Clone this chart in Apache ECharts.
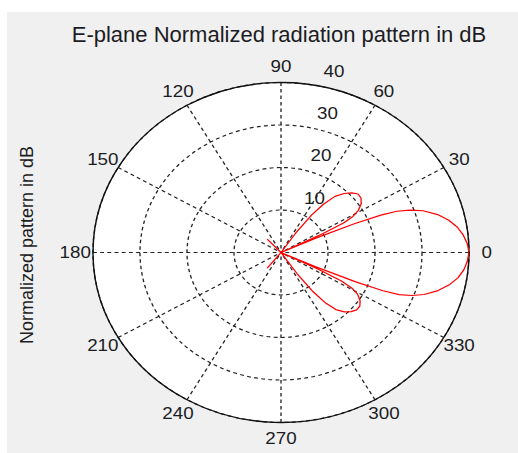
<!DOCTYPE html>
<html><head><meta charset="utf-8">
<script src="https://cdn.jsdelivr.net/npm/echarts@6/dist/echarts.min.js"></script>
<style>
html,body{margin:0;padding:0;background:#fff;width:518px;height:453px;overflow:hidden}
#bg{position:absolute;left:7px;top:12px;width:511px;height:441px;background:#f0f0f0}
#plot{position:absolute;left:0;top:0;width:518px;height:453px;transform-origin:281px 0;transform:scaleX(1.106)}
#txt{position:absolute;left:0;top:0;width:518px;height:453px}
</style></head>
<body><div id="bg"></div><div id="plot"></div><div id="txt"></div>
<script>
// Text
const titleText = 'E-plane Normalized radiation pattern in dB';
const yLabelText = 'Normalized pattern in dB';
// Tick labels
const angleTicks = [0, 30, 60, 90, 120, 150, 180, 210, 240, 270, 300, 330];
const radiusTicks = [10, 20, 30, 40];
// Pattern: angle (deg) and normalized pattern value plotted as radius (dB + 40)
const thetaDeg = [0, 3, 6, 9, 12, 15, 18, 20, 21.5, 22.5, 23.5, 24.5, 25.5, 26.5, 27.5, 29, 31, 34, 37, 40, 43, 46, 49, 51.5, 53.5, 55.5, 57,
  130, 133, 136, 229, 231.5, 234,
  303, 304.5, 306.5, 308.5, 311, 314, 317, 320, 323, 326, 329, 331, 332.5, 333.5, 334.5, 335.5, 336.5, 337.5, 338.5, 340, 342, 345, 348, 351, 354, 357, 360];
const patternR = [40, 39.7, 39.0, 38.0, 36.5, 34.5, 31.8, 29.2, 26.5, 23, 17, 8, 0, 10, 15, 17.5, 19.2, 20.6, 21.3, 21.4, 20.6, 19.3, 17.5, 14.5, 11, 5.5, 0,
  0, 4.3, 0, 0, 4.7, 0,
  0, 6, 11.5, 15, 17.8, 19.4, 20.4, 21.0, 21.0, 20.3, 19.0, 17.2, 14.5, 9, 0, 8, 17.5, 23.5, 27, 29.6, 32, 34.6, 36.6, 38.1, 39.1, 39.7, 40];

const FONT = 'Liberation Sans, Arial, sans-serif';
const TXT = '#1c1c24';
const FS = 17;
const seriesData = thetaDeg.map((t, i) => [patternR[i], t]);

const C = [281, 252.5], R = 170;

// Angle labels centred on a circle of radius LBL_D (like the reference), via rich padding
const ctx = document.createElement('canvas').getContext('2d');
ctx.font = FS + 'px ' + FONT;
const LBL_M = -12, LBL_D = 186, LBL_H = FS;
const rich = {};
angleTicks.forEach(a => {
  const t = a * Math.PI / 180, c = Math.cos(t), s = Math.sin(t);
  const w = ctx.measureText(String(a)).width;
  const ar = R + LBL_M;
  const hx = Math.abs(ar * c) / R < 0.3 ? 'center' : (c > 0 ? 'left' : 'right');
  const vy = Math.abs(ar * s) / R < 0.3 ? 'middle' : (s > 0 ? 'bottom' : 'top');
  const pad = [0, 0, 0, 0];
  if (hx !== 'center') {
    const dh = Math.max(0, (LBL_D - ar) * Math.abs(c) - w / 2);
    if (hx === 'left') pad[3] = dh; else pad[1] = dh;
  }
  if (vy !== 'middle') {
    const dv = 2 * Math.max(0, (LBL_D - ar) * Math.abs(s) - LBL_H / 2);
    if (vy === 'bottom') pad[2] = dv; else pad[0] = dv;
  }
  rich['a' + a] = {padding: pad, fontSize: FS, fontFamily: FONT, color: TXT, lineHeight: LBL_H};
});

const plot = echarts.init(document.getElementById('plot'), null, {renderer: 'svg'});
plot.setOption({
  animation: false,
  polar: [{center: C, radius: R}, {center: [C[0] + 3.5, C[1] - 15.5], radius: R}, {center: C, radius: R}],
  angleAxis: [
    {polarIndex: 0, type: 'value', min: 0, max: 360, interval: 30, startAngle: 0, clockwise: false, z: 2,
      axisLine: {show: true, lineStyle: {color: '#111', width: 1.3}},
      axisTick: {show: false},
      axisLabel: {show: true, margin: LBL_M, color: TXT, fontSize: FS, fontFamily: FONT, rich: rich,
        formatter: v => angleTicks.indexOf(v) >= 0 ? '{a' + v + '|' + v + '}' : ''},
      splitLine: {show: true, lineStyle: {color: '#222', width: 1.2, type: [3.5, 3]}},
      splitArea: {show: false}},
    {polarIndex: 1, type: 'value', min: 0, max: 360, interval: 30, startAngle: 82, clockwise: false, show: false},
    {polarIndex: 2, type: 'value', min: 0, max: 360, interval: 30, startAngle: 0, clockwise: false, z: -1,
      axisLine: {show: false}, axisTick: {show: false}, axisLabel: {show: false}, splitLine: {show: false},
      splitArea: {show: true, areaStyle: {color: ['#ffffff']}}}
  ],
  radiusAxis: [
    {polarIndex: 0, type: 'value', min: 0, max: 40, interval: 10, z: 2,
      axisLine: {show: false}, axisTick: {show: false}, axisLabel: {show: false},
      splitLine: {show: true, lineStyle: {color: '#222', width: 1.2, type: [3.5, 3]}}},
    {polarIndex: 1, type: 'value', min: 0, max: 40, interval: 10, z: 3,
      axisLine: {show: false}, axisTick: {show: false}, splitLine: {show: false},
      axisLabel: {show: true, margin: -21, align: 'center', verticalAlign: 'middle', padding: [0, 0, 34, 0],
        color: TXT, fontSize: FS, fontFamily: FONT,
        formatter: v => radiusTicks.indexOf(v) >= 0 ? String(v) : ''}},
    {polarIndex: 2, type: 'value', min: 0, max: 40, interval: 10, show: false}
  ],
  series: [{
    type: 'line', coordinateSystem: 'polar', polarIndex: 0, data: seriesData, z: 10,
    showSymbol: false, symbol: 'none', smooth: false, clip: false,
    lineStyle: {color: '#ff0000', width: 1.2}
  }]
});

const txt = echarts.init(document.getElementById('txt'), null, {renderer: 'svg'});
txt.setOption({
  animation: false,
  graphic: [
    {type: 'text', x: 279, y: 34, style: {text: titleText, fill: TXT, font: '22px ' + FONT, align: 'center', verticalAlign: 'middle'}},
    {type: 'text', x: 27, y: 245, rotation: Math.PI / 2, style: {text: yLabelText, fill: TXT, font: '18px ' + FONT, align: 'center', verticalAlign: 'middle'}}
  ]
});
</script>
</body></html>
